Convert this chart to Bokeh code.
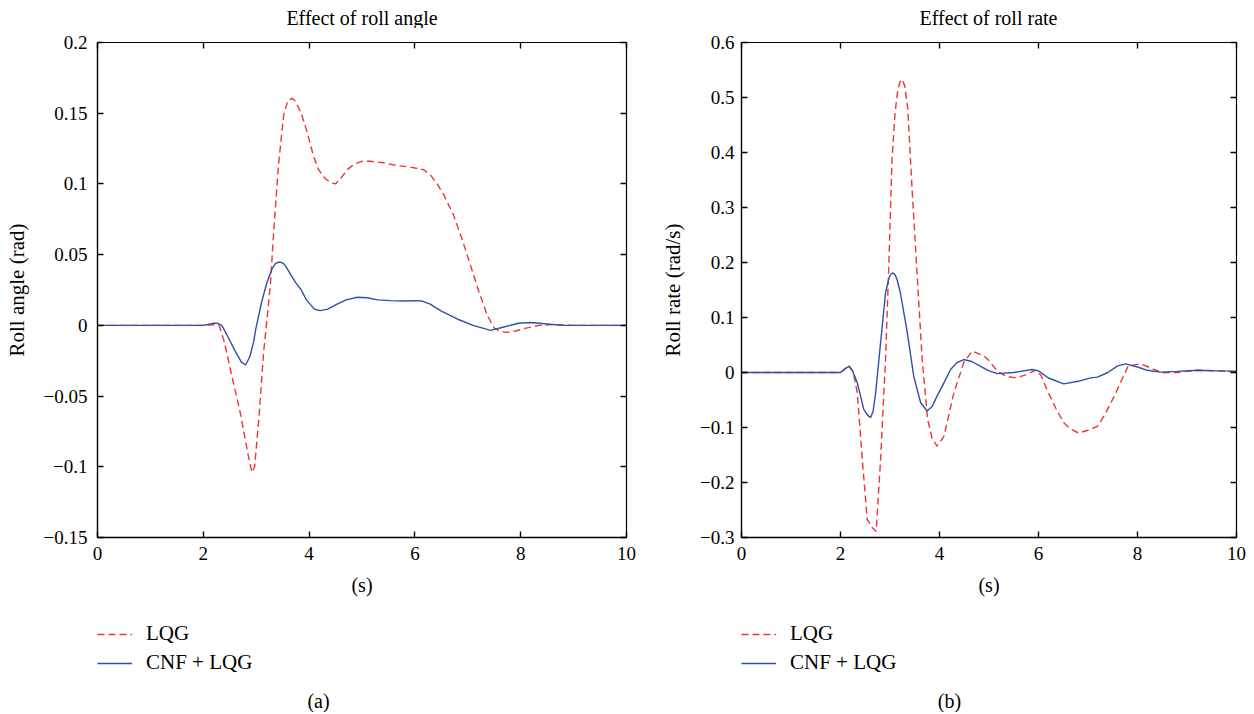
from bokeh.plotting import figure
from bokeh.layouts import row, column
from bokeh.models import (Range1d, FixedTicker, CustomJSTickFormatter, LinearAxis,
                          Legend, LegendItem, Label)
from bokeh.embed import file_html
from bokeh.resources import INLINE

# ---------------- data ----------------
x_ticks = [0, 2, 4, 6, 8, 10]
y_ticks_angle = [-0.15, -0.1, -0.05, 0, 0.05, 0.1, 0.15, 0.2]
y_ticks_rate = [-0.3, -0.2, -0.1, 0, 0.1, 0.2, 0.3, 0.4, 0.5, 0.6]

titles = ["Effect of roll angle", "Effect of roll rate"]
y_labels = ["Roll angle (rad)", "Roll rate (rad/s)"]
x_label = "(s)"
captions = ["(a)", "(b)"]
series_names = ["LQG", "CNF + LQG"]

t_angle_lqg = [0, 2.0, 2.25, 2.3, 2.4, 2.51, 2.7, 2.85, 2.92, 2.97, 3.05, 3.14, 3.22, 3.27,
               3.33, 3.42, 3.52, 3.6, 3.68, 3.75, 3.85, 3.96, 4.08, 4.18, 4.3, 4.4, 4.5,
               4.6, 4.72, 4.85, 5.0, 5.16, 5.4, 5.66, 5.9, 6.17, 6.3, 6.42, 6.55, 6.73,
               6.9, 7.05, 7.2, 7.37, 7.5, 7.6, 7.73, 7.9, 8.1, 8.35, 8.6, 9.0, 10.0]
angle_lqg = [0, 0, 0.0005, 0.0, -0.012, -0.031, -0.062, -0.092, -0.104, -0.1, -0.066,
             -0.019, 0.01, 0.03, 0.066, 0.113, 0.149, 0.159, 0.1605, 0.158, 0.15, 0.137,
             0.12, 0.11, 0.104, 0.101, 0.1, 0.104, 0.11, 0.114, 0.116, 0.116, 0.115,
             0.113, 0.112, 0.11, 0.106, 0.1, 0.092, 0.078, 0.06, 0.0425, 0.025, 0.007,
             -0.002, -0.004, -0.005, -0.004, -0.002, 0.0, 0.0005, 0.0, 0.0]

t_angle_cnf = [0, 2.0, 2.2, 2.26, 2.35, 2.45, 2.6, 2.72, 2.8, 2.88, 2.95, 2.99, 3.1, 3.2,
               3.3, 3.36, 3.41, 3.46, 3.52, 3.58, 3.65, 3.75, 3.84, 3.95, 4.1, 4.21, 4.35,
               4.53, 4.7, 4.91, 5.1, 5.3, 5.54, 5.8, 6.04, 6.15, 6.29, 6.5, 6.8, 7.1, 7.43,
               7.7, 7.95, 8.2, 8.5, 8.8, 10.0]
angle_cnf = [0, 0, 0.0015, 0.0016, 0.0, -0.007, -0.018, -0.026, -0.028, -0.022, -0.012,
             -0.003, 0.016, 0.03, 0.04, 0.0435, 0.0446, 0.0447, 0.0437, 0.0405, 0.036,
             0.03, 0.0257, 0.018, 0.0115, 0.0104, 0.0115, 0.015, 0.018, 0.0199, 0.0195,
             0.018, 0.0175, 0.0172, 0.0175, 0.017, 0.015, 0.01, 0.0045, 0.0, -0.0035,
             -0.001, 0.0015, 0.002, 0.001, 0.0, 0.0]

t_rate_lqg = [0, 2.0, 2.1, 2.17, 2.25, 2.34, 2.44, 2.54, 2.64, 2.72, 2.81, 2.91, 2.98,
              3.04, 3.1, 3.15, 3.2, 3.25, 3.3, 3.36, 3.45, 3.55, 3.65, 3.76, 3.85, 3.95,
              4.09, 4.29, 4.49, 4.66, 4.9, 5.0, 5.17, 5.35, 5.55, 5.75, 5.94, 6.05, 6.17,
              6.35, 6.51, 6.65, 6.81, 7.0, 7.19, 7.35, 7.53, 7.7, 7.81, 8.06, 8.26, 8.5,
              8.8, 9.21, 9.6, 10.0]
rate_lqg = [0, 0, 0.008, 0.0127, 0.003, -0.037, -0.158, -0.267, -0.282, -0.289, -0.158,
            0.024, 0.205, 0.387, 0.47, 0.509, 0.528, 0.533, 0.52, 0.478, 0.327, 0.175,
            0.024, -0.085, -0.12, -0.134, -0.116, -0.037, 0.018, 0.039, 0.03, 0.022,
            0.002, -0.007, -0.01, -0.004, 0.004, -0.005, -0.031, -0.065, -0.0915, -0.103,
            -0.11, -0.105, -0.098, -0.075, -0.043, -0.01, 0.0115, 0.0158, 0.0085, -0.0006,
            0.0, 0.004, 0.003, 0.002]

t_rate_cnf = [0, 2.0, 2.1, 2.17, 2.25, 2.34, 2.47, 2.55, 2.61, 2.66, 2.71, 2.81, 2.91,
              2.98, 3.02, 3.06, 3.1, 3.14, 3.21, 3.35, 3.48, 3.62, 3.75, 3.85, 3.95, 4.1,
              4.22, 4.35, 4.49, 4.65, 4.83, 5.0, 5.17, 5.5, 5.87, 6.0, 6.2, 6.51, 6.8,
              7.05, 7.19, 7.4, 7.6, 7.76, 8.0, 8.2, 8.46, 8.8, 9.21, 9.6, 10.0]
rate_cnf = [0, 0, 0.007, 0.011, 0.002, -0.019, -0.067, -0.078, -0.082, -0.07, -0.037,
            0.054, 0.145, 0.172, 0.179, 0.181, 0.178, 0.17, 0.145, 0.072, -0.007, -0.055,
            -0.07, -0.062, -0.043, -0.017, 0.005, 0.018, 0.0236, 0.02, 0.011, 0.003,
            -0.002, 0.0, 0.0055, 0.003, -0.01, -0.0206, -0.016, -0.0097, -0.0085, 0.0,
            0.012, 0.0158, 0.01, 0.004, 0.0006, 0.002, 0.004, 0.003, 0.002]

# ---------------- style ----------------
FONT = "Liberation Serif"
RED = "#f03434"
BLUE = "#3050a8"
DASH = "7 4"

fmt_code = """
const v = Math.round(tick * 1e6) / 1e6;
if (v === 0) return "0";
return (v < 0 ? "\\u2212" : "") + String(Math.abs(v));
"""
empty_code = "return '';"

HEAD_H = 28
TOP = 14
FRAME_H = 495
MAIN_H = 580
FOOT_H = 104


def blank(width, height):
    f = figure(width=width, height=height, output_backend="svg", toolbar_location=None,
               x_range=Range1d(0, width), y_range=Range1d(height, 0),
               x_axis_type=None, y_axis_type=None, min_border=0, tools="", title=None)
    f.outline_line_color = None
    f.xgrid.visible = False
    f.ygrid.visible = False
    f.background_fill_color = "white"
    f.border_fill_color = "white"
    return f


def make_header(width, title, cx):
    h = blank(width, HEAD_H)
    h.add_layout(Label(x=cx, y=17.5, text=title, text_font=FONT, text_font_size="20px",
                       text_align="center", text_baseline="middle",
                       text_color="black"))
    return h


def make_panel(ylab, yticks, yrange, t1, v1, t2, v2, width, left, right,
               ylab_standoff, ylab_tick_standoff):
    p = figure(width=width, height=MAIN_H, output_backend="svg", toolbar_location=None,
               x_range=Range1d(0, 10), y_range=Range1d(*yrange), title=None,
               min_border_left=left, min_border_right=right, min_border_top=TOP,
               min_border_bottom=MAIN_H - TOP - FRAME_H, tools="")
    p.outline_line_color = None
    p.xgrid.visible = False
    p.ygrid.visible = False
    p.background_fill_color = "white"
    p.border_fill_color = "white"

    p.line(t1, v1, line_color=RED, line_width=1.4, line_dash=DASH)
    p.line(t2, v2, line_color=BLUE, line_width=1.4)

    xa = p.xaxis[0]
    ya = p.yaxis[0]
    xa.ticker = FixedTicker(ticks=x_ticks)
    ya.ticker = FixedTicker(ticks=yticks)
    for ax in (xa, ya):
        ax.formatter = CustomJSTickFormatter(code=fmt_code)
        ax.major_tick_in = 6
        ax.major_tick_out = 0
        ax.minor_tick_in = 0
        ax.minor_tick_out = 0
        ax.axis_line_width = 1.4
        ax.axis_line_color = "black"
        ax.major_tick_line_width = 1.4
        ax.major_label_text_font = FONT
        ax.major_label_text_font_size = "19px"
        ax.major_label_text_color = "black"
        ax.axis_label_text_font = FONT
        ax.axis_label_text_font_size = "21px"
        ax.axis_label_text_font_style = "normal"
        ax.axis_label_text_color = "black"
    xa.axis_label = x_label
    xa.axis_label_text_font_size = "20px"
    xa.major_label_standoff = 9
    xa.axis_label_standoff = 11
    ya.axis_label = ylab
    ya.major_label_standoff = ylab_tick_standoff
    ya.axis_label_standoff = ylab_standoff

    for side, tks in (("above", x_ticks), ("right", yticks)):
        ax = LinearAxis(ticker=FixedTicker(ticks=tks),
                        formatter=CustomJSTickFormatter(code=empty_code),
                        major_tick_in=6, major_tick_out=0, minor_tick_in=0,
                        minor_tick_out=0, major_label_standoff=0,
                        axis_line_width=1.2, major_tick_line_width=1.4,
                        major_label_text_font_size="1px")
        p.add_layout(ax, side)
    return p


def make_footer(width, legend_x, caption, cap_x):
    f = blank(width, FOOT_H)
    nan = float("nan")
    r1 = f.line(x=[nan], y=[nan], line_color=RED, line_width=1.4, line_dash=DASH)
    r2 = f.line(x=[nan], y=[nan], line_color=BLUE, line_width=1.4)
    legend = Legend(items=[LegendItem(label=series_names[0], renderers=[r1]),
                           LegendItem(label=series_names[1], renderers=[r2])],
                    location=(legend_x, 37), orientation="vertical",
                    label_text_font=FONT, label_text_font_size="21px",
                    label_text_color="black",
                    glyph_width=35, glyph_height=24, label_height=24,
                    label_standoff=14, spacing=4, padding=0, margin=0,
                    border_line_color=None, background_fill_alpha=0)
    f.add_layout(legend, "center")
    f.add_layout(Label(x=cap_x, y=92, text=caption, text_font=FONT,
                       text_font_size="20px", text_align="center",
                       text_baseline="middle", text_color="black"))
    return f


W1, W2 = 638, 608
h1 = make_header(W1, titles[0], 361.5)
h2 = make_header(W2, titles[1], 350)
p1 = make_panel(y_labels[0], y_ticks_angle, (-0.15, 0.2),
                t_angle_lqg, angle_lqg, t_angle_cnf, angle_cnf,
                width=W1, left=97, right=12, ylab_standoff=12, ylab_tick_standoff=10)
p2 = make_panel(y_labels[1], y_ticks_rate, (-0.3, 0.6),
                t_rate_lqg, rate_lqg, t_rate_cnf, rate_cnf,
                width=W2, left=103, right=10, ylab_standoff=12, ylab_tick_standoff=7)
f1 = make_footer(W1, 97, captions[0], 318)
f2 = make_footer(W2, 103, captions[1], 311)

layout = column(row(h1, h2), row(p1, p2), row(f1, f2))
open("out.html", "w").write(file_html(layout, INLINE))
